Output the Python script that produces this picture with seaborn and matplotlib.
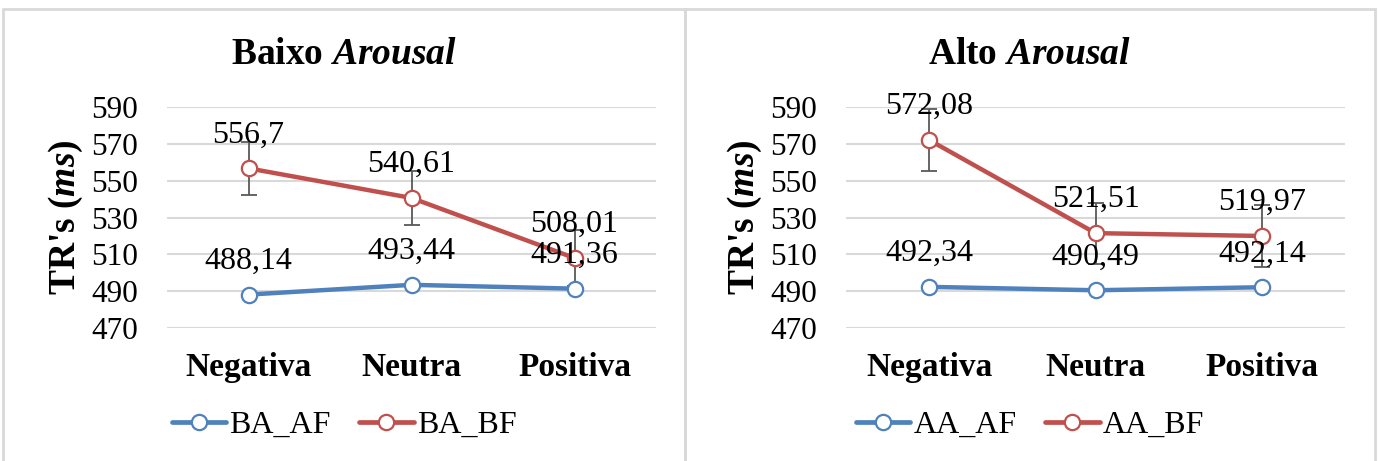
import matplotlib
matplotlib.use("Agg")
import matplotlib.pyplot as plt
import seaborn as sns
import pandas as pd
from matplotlib.lines import Line2D
from matplotlib.patches import Rectangle

# data
categories = ["Negativa", "Neutra", "Positiva"]

ba_af = [488.14, 493.44, 491.36]
ba_bf = [556.7, 540.61, 508.01]
ba_bf_err = [14.5, 14.5, 15.0]

aa_af = [492.34, 490.49, 492.14]
aa_bf = [572.08, 521.51, 519.97]
aa_bf_err = [17.0, 16.5, 17.0]

yticks = [470, 490, 510, 530, 550, 570, 590]

BLUE = "#4F81BD"
RED = "#C0504D"
GRID = "#D9D9D9"
ERR = "#595959"

sns.set_theme(style="white")
plt.rcParams["font.family"] = ["Liberation Serif", "DejaVu Serif"]
plt.rcParams["mathtext.fontset"] = "custom"
plt.rcParams["mathtext.rm"] = "Liberation Serif:bold"
plt.rcParams["mathtext.it"] = "Liberation Serif:bold:italic"
plt.rcParams["mathtext.bf"] = "Liberation Serif:bold"
for k in ["text.color", "axes.labelcolor", "xtick.color", "ytick.color"]:
    plt.rcParams[k] = "black"

W, H = 1379, 461
fig = plt.figure(figsize=(W / 100, H / 100), dpi=100)


def fmt(v):
    return ("%g" % v).replace(".", ",")


def draw_panel(ax, af, bf, bf_err, names, title, panel_x0, panel_x1):
    df = pd.DataFrame({
        "Valencia": categories * 2,
        "TR": af + bf,
        "Serie": [names[0]] * 3 + [names[1]] * 3,
    })
    for name, color in zip(names, [BLUE, RED]):
        sub = df[df["Serie"] == name]
        sns.lineplot(data=sub, x="Valencia", y="TR", ax=ax, color=color,
                     lw=3.2, marker="o", ms=11, mfc="white", mec=color,
                     mew=1.6, legend=False, zorder=3)
    xs = range(len(categories))
    ax.errorbar(list(xs), bf, yerr=bf_err, fmt="none", ecolor=ERR,
                elinewidth=1.3, capsize=6, capthick=1.3, zorder=2)
    for x, v in zip(xs, af):
        ax.annotate(fmt(v), (x, v), xytext=(0, 24), textcoords="offset points",
                    ha="center", va="center", fontsize=23, zorder=5)
    for x, v in zip(xs, bf):
        ax.annotate(fmt(v), (x, v), xytext=(0, 24), textcoords="offset points",
                    ha="center", va="center", fontsize=23, zorder=5)

    ax.set_xlim(-0.5, 2.5)
    ax.set_ylim(470, 590)
    ax.set_yticks(yticks)
    ax.set_yticklabels([str(t) for t in yticks], fontsize=22.5)
    ax.set_xticks(list(xs))
    ax.set_xticklabels(categories, fontsize=24, fontweight="bold")
    ax.tick_params(axis="y", length=0, pad=21)
    ax.tick_params(axis="x", length=0, pad=17)
    ax.grid(axis="y", color=GRID, lw=1.5)
    ax.grid(axis="x", visible=False)
    ax.set_axisbelow(True)
    for s in ax.spines.values():
        s.set_visible(False)
    ax.set_xlabel("")
    ax.set_ylabel("TR's ($\\mathit{ms}$)", fontsize=27, fontweight="bold", labelpad=4)

    cx = (panel_x0 + panel_x1) / 2 / W
    fig.text(cx, 1 - 55 / H, title, ha="center", va="center",
             fontsize=27, fontweight="bold")

    handles = [Line2D([], [], color=c, lw=3.4, marker="o", ms=11, mfc="white",
                      mec=c, mew=1.6) for c in [BLUE, RED]]
    ax.legend(handles, names, loc="center", bbox_to_anchor=(cx, 1 - 425 / H),
              bbox_transform=fig.transFigure, ncol=2, frameon=False,
              fontsize=23, handlelength=1.7, columnspacing=0.9, handletextpad=0.1)

    fig.patches.append(Rectangle((panel_x0 / W, -0.01), (panel_x1 - panel_x0) / W,
                                 1 - 9 / H + 0.01, transform=fig.transFigure,
                                 fill=False, edgecolor=GRID, lw=2))


ax1 = fig.add_axes([167 / W, (H - 328) / H, 489 / W, 221 / H])
ax2 = fig.add_axes([846 / W, (H - 328) / H, 499 / W, 221 / H])

draw_panel(ax1, ba_af, ba_bf, ba_bf_err, ["BA_AF", "BA_BF"],
           "Baixo $\\mathit{Arousal}$", 3, 685)
draw_panel(ax2, aa_af, aa_bf, aa_bf_err, ["AA_AF", "AA_BF"],
           "Alto $\\mathit{Arousal}$", 685, 1375)

fig.savefig("out.png", dpi=100, facecolor="white")
